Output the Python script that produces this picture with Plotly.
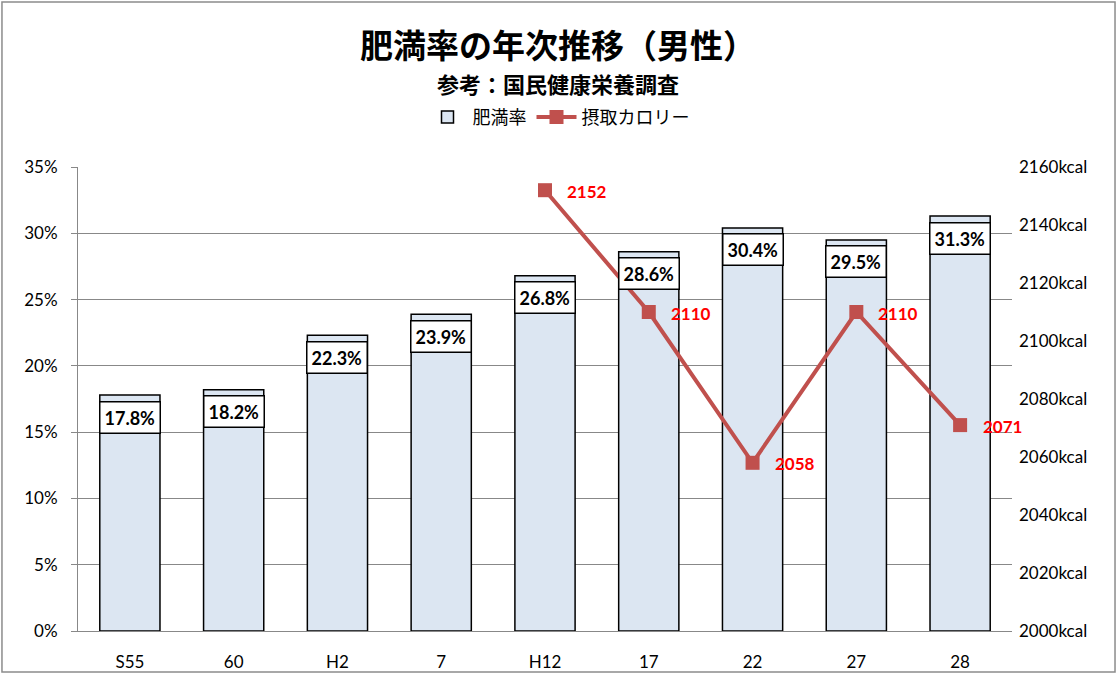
import plotly.graph_objects as go

# data
years = ["S55", "60", "H2", "7", "H12", "17", "22", "27", "28"]
obesity_rate = [17.8, 18.2, 22.3, 23.9, 26.8, 28.6, 30.4, 29.5, 31.3]
calories = [None, None, None, None, 2152, 2110, 2058, 2110, 2071]

jp_font = "Noto Sans CJK JP"
num_font = "Lato"

fig = go.Figure()

fig.add_trace(go.Bar(
    x=years, y=obesity_rate, name="肥満率",
    marker=dict(color="#DCE6F2", line=dict(color="black", width=1.5)),
))

fig.add_trace(go.Scatter(
    x=years, y=calories, name="摂取カロリー", yaxis="y2",
    mode="lines+markers",
    line=dict(color="#C0504D", width=4),
    marker=dict(symbol="square", size=14, color="#C0504D"),
))

# white boxed percentage labels near the top of each bar
# (category index used as x so "60"/"7" are not read as positions)
for i, v in enumerate(obesity_rate):
    fig.add_annotation(
        x=i, y=v, xref="x", yref="y", text=f"<b>{v:.1f}%</b>",
        showarrow=False, yshift=-22, bgcolor="white",
        bordercolor="black", borderwidth=1.5, borderpad=4,
        font=dict(family=num_font, size=18, color="black"),
    )

# red calorie labels right of the markers
for i, c in enumerate(calories):
    if c is None:
        continue
    fig.add_annotation(
        x=i, y=c, xref="x", yref="y2", text=f"<b>{c}</b>",
        showarrow=False, xshift=42, yshift=-1,
        font=dict(family=num_font, size=17, color="#FF0000"),
    )

# title and subtitle
fig.add_annotation(
    x=0.5, y=1.265, xref="paper", yref="paper", xshift=13,
    xanchor="center", yanchor="middle",
    text="<b>肥満率の年次推移（男性）</b>", showarrow=False,
    font=dict(family=jp_font, size=33, color="black"),
)
fig.add_annotation(
    x=0.5, y=1.181, xref="paper", yref="paper", xshift=13,
    xanchor="center", yanchor="middle",
    text="<b>参考：国民健康栄養調査</b>", showarrow=False,
    font=dict(family=jp_font, size=22, color="black"),
)

# outer chart border
fig.add_shape(type="rect", xref="paper", yref="paper",
              x0=-0.0814, x1=1.1103, y0=-0.0884, y1=1.3556,
              line=dict(color="#8C8C8C", width=1.5))

fig.update_layout(
    width=1117, height=674,
    margin=dict(l=78, r=105, t=167, b=43),
    paper_bgcolor="white", plot_bgcolor="white",
    legend=dict(
        orientation="h", x=0.5, xref="container", xanchor="center",
        y=0.826, yref="container", yanchor="middle",
        font=dict(family=jp_font, size=18, color="black"),
        itemwidth=40,
    ),
    showlegend=True,
    bargap=0.42,
    xaxis=dict(
        type="category", range=[-0.5, len(years) - 0.5], automargin=False,
        showgrid=False, showline=True, linecolor="#888888", linewidth=1,
        tickfont=dict(family=num_font, size=17, color="black"),
        ticks="", ticklen=0, ticklabelstandoff=16,
    ),
    yaxis=dict(
        range=[0, 35], dtick=5, ticksuffix="%", automargin=False,
        showgrid=True, gridcolor="#888888", gridwidth=1,
        showline=True, linecolor="#888888", linewidth=1,
        ticks="outside", ticklen=6, tickcolor="#888888",
        tickfont=dict(family=num_font, size=17, color="black"),
        zeroline=False, ticklabelstandoff=10,
    ),
    yaxis2=dict(
        range=[2000, 2160], dtick=20, ticksuffix="kcal", overlaying="y",
        side="right", showgrid=False, showline=False, zeroline=False,
        automargin=False,
        tickfont=dict(family=num_font, size=17, color="black"),
        ticks="", tickformat="d", ticklabelstandoff=6,
    ),
)

# drop the default page margin so the chart sits at the window's corner
fig.write_html("out.html", config={"displayModeBar": False},
               post_script="document.body.style.margin='0';")
